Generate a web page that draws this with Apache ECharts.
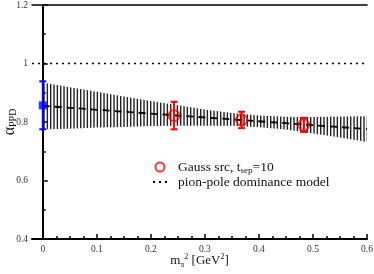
<!DOCTYPE html>
<html>
<head>
<meta charset="utf-8">
<script src="https://cdn.jsdelivr.net/npm/echarts@6/dist/echarts.min.js"></script>
<style>
  html, body { margin: 0; padding: 0; background: #fff; }
  #main { width: 374px; height: 274px; }
</style>
</head>
<body>
<div id="main"></div>
<script>
// ---- data ----
var blueX = [0];
var blueY = [0.857];
var blueErr = [0.082];

var redX = [0.243, 0.368, 0.483];
var redY = [0.822, 0.807, 0.790];
var redErr = [0.047, 0.028, 0.024];

// linear fit (dashed) and its error band (hatched)
var fitX = [0, 0.6];
var fitY = [0.855, 0.776];
var bandX = [0, 0.05, 0.1, 0.15, 0.2, 0.25, 0.3, 0.35, 0.4, 0.45, 0.5, 0.55, 0.6];
var bandUpper = [0.935, 0.919, 0.903, 0.887, 0.872, 0.857, 0.843, 0.831, 0.822, 0.818, 0.817, 0.819, 0.820];
var bandLower = [0.775, 0.777, 0.781, 0.783, 0.786, 0.787, 0.787, 0.787, 0.782, 0.774, 0.761, 0.747, 0.732];

// pion-pole dominance model
var ppdX = [-0.02, 0.6];
var ppdY = [1, 1];

var xMajorTicks = [0, 0.1, 0.2, 0.3, 0.4, 0.5, 0.6];
var xMinorTicks = [0.025, 0.05, 0.075, 0.125, 0.15, 0.175, 0.225, 0.25, 0.275, 0.325, 0.35, 0.375,
                   0.425, 0.45, 0.475, 0.525, 0.55, 0.575];

var serif = 'Liberation Serif';

// vertical hatch pattern for the band
var hatch = document.createElement('canvas');
hatch.width = 10;
hatch.height = 4;
var hctx = hatch.getContext('2d');
hctx.fillStyle = '#222';
hctx.fillRect(0, 0, 1.4, 4);
hctx.fillRect(3.33, 0, 1.4, 4);
hctx.fillRect(6.67, 0, 1.4, 4);

function pairs(xs, ys) {
    return xs.map(function (x, i) { return [x, ys[i]]; });
}

function errRender(color) {
    return function (params, api) {
        var x = api.value(0), y = api.value(1), e = api.value(2);
        var top = api.coord([x, y + e]);
        var bot = api.coord([x, y - e]);
        var st = { stroke: color, lineWidth: 2 };
        return {
            type: 'group',
            children: [
                { type: 'line', shape: { x1: top[0], y1: top[1], x2: bot[0], y2: bot[1] }, style: st },
                { type: 'line', shape: { x1: top[0] - 3.5, y1: top[1], x2: top[0] + 3.5, y2: top[1] }, style: st },
                { type: 'line', shape: { x1: bot[0] - 3.5, y1: bot[1], x2: bot[0] + 3.5, y2: bot[1] }, style: st }
            ]
        };
    };
}

// band polygon: upper edge left->right, lower edge right->left
function bandRender(params, api) {
    if (params.dataIndex !== 0) return;
    var pts = [];
    for (var i = 0; i < bandX.length; i++) pts.push(api.coord([bandX[i], bandUpper[i]]));
    for (var j = bandX.length - 1; j >= 0; j--) pts.push(api.coord([bandX[j], bandLower[j]]));
    return {
        type: 'polygon',
        shape: { points: pts },
        style: { fill: { image: hatch, repeat: 'repeat' }, stroke: null }
    };
}

var myChart = echarts.init(document.getElementById('main'), null, { renderer: 'canvas' });

var option = {
    animation: false,
    backgroundColor: '#fff',
    grid: { left: 32, right: 7, top: 5, bottom: 35, containLabel: false, outerBoundsMode: 'none' },
    legend: {
        left: 147,
        top: 155,
        orient: 'vertical',
        itemWidth: 14,
        itemHeight: 9,
        itemGap: 0,
        data: [
            'Gauss src, t_sep=10',
            { name: 'pion-pole dominance model', itemStyle: { opacity: 0 } }
        ],
        formatter: function (name) {
            if (name === 'Gauss src, t_sep=10') {
                return '{t|Gauss src, t}{s|sep}{t|=10}';
            }
            return '{t|' + name + '}';
        },
        textStyle: {
            padding: [0, 0, 0, 6],
            rich: {
                t: { fontFamily: serif, fontSize: 13.5, color: '#111', lineHeight: 16 },
                s: { fontFamily: serif, fontSize: 9, color: '#111', verticalAlign: 'bottom', lineHeight: 10 }
            }
        }
    },
    xAxis: [
        {
            type: 'value', min: -0.02, max: 0.6, position: 'bottom',
            axisLine: { lineStyle: { color: '#000', width: 2 } },
            axisTick: { inside: true, length: 5, customValues: xMajorTicks, lineStyle: { color: '#000', width: 1.5 } },
            axisLabel: {
                customValues: xMajorTicks, margin: 5,
                fontFamily: serif, fontSize: 9.5, color: '#333',
                formatter: function (v) { return v === 0 ? '0' : v.toFixed(1); }
            },
            splitLine: { show: false },
            name: '{t|m}{sb|π}{sp|2}{t| [GeV}{sp|2}{t|]}',
            nameLocation: 'middle',
            nameGap: 14,
            nameMoveOverlap: false,
            nameTextStyle: {
                rich: {
                    t: { fontFamily: serif, fontSize: 13, color: '#111', lineHeight: 16 },
                    sb: { fontFamily: serif, fontSize: 8, color: '#111', verticalAlign: 'bottom', lineHeight: 8 },
                    sp: { fontFamily: serif, fontSize: 8, color: '#111', verticalAlign: 'top', lineHeight: 8 }
                }
            }
        },
        {
            type: 'value', min: -0.02, max: 0.6, position: 'bottom',
            axisLine: { show: false },
            axisTick: { inside: true, length: 3, customValues: xMinorTicks, lineStyle: { color: '#000', width: 1.5 } },
            axisLabel: { show: false },
            splitLine: { show: false }
        },
        {
            type: 'value', min: -0.02, max: 0.6, position: 'top',
            axisLine: { lineStyle: { color: '#000', width: 1.5 } },
            axisTick: { show: false }, axisLabel: { show: false }, splitLine: { show: false }
        }
    ],
    yAxis: [
        {
            type: 'value', min: 0.4, max: 1.2, interval: 0.2, position: 'left',
            axisLine: { show: true, lineStyle: { color: '#000', width: 2 } },
            axisTick: { inside: true, length: 5, lineStyle: { color: '#000', width: 1.5 } },
            minorTick: { show: true, splitNumber: 2, length: 3, lineStyle: { color: '#000', width: 1.5 } },
            axisLabel: { margin: 4, fontFamily: serif, fontSize: 9.5, color: '#333' },
            splitLine: { show: false },
            name: '{a|α}{s|PPD}',
            nameLocation: 'middle',
            nameRotate: 90,
            nameGap: 14,
            nameMoveOverlap: false,
            nameTextStyle: {
                rich: {
                    a: { fontFamily: serif, fontSize: 16, color: '#111', lineHeight: 16 },
                    s: { fontFamily: serif, fontSize: 10, color: '#111', verticalAlign: 'bottom', lineHeight: 10 }
                }
            }
        },
        {
            type: 'value', min: 0.4, max: 1.2, position: 'right',
            axisLine: { show: true, lineStyle: { color: '#000', width: 1.5 } },
            axisTick: { show: false }, axisLabel: { show: false }, splitLine: { show: false }
        }
    ],
    series: [
        {
            name: 'band', type: 'custom', renderItem: bandRender,
            data: pairs(bandX, bandUpper), silent: true, z: 1
        },
        {
            name: 'fit', type: 'line', data: pairs(fitX, fitY),
            symbol: 'none', lineStyle: { color: '#000', width: 1.8, type: [7, 5] }, z: 3
        },
        {
            name: 'pion-pole dominance model', type: 'line', data: pairs(ppdX, ppdY),
            symbol: 'none', itemStyle: { color: '#000' },
            lineStyle: { color: '#000', width: 1.5, type: [2, 4] }, z: 3
        },
        {
            name: 'blueErr', type: 'custom', renderItem: errRender('#0000ff'),
            data: blueX.map(function (x, i) { return [x, blueY[i], blueErr[i]]; }), z: 4
        },
        {
            name: 'blue', type: 'scatter', data: pairs(blueX, blueY),
            symbol: 'rect', symbolSize: 8, itemStyle: { color: '#0000ff' }, z: 5
        },
        {
            name: 'redErr', type: 'custom', renderItem: errRender('#ff0000'),
            data: redX.map(function (x, i) { return [x, redY[i], redErr[i]]; }), z: 4
        },
        {
            name: 'Gauss src, t_sep=10', type: 'scatter', data: pairs(redX, redY),
            symbol: 'circle', symbolSize: 11,
            itemStyle: { color: 'rgba(255,255,255,0)', borderColor: '#ff0000', borderWidth: 1.8 }, z: 5
        }
    ]
};

myChart.setOption(option);
</script>
</body>
</html>
